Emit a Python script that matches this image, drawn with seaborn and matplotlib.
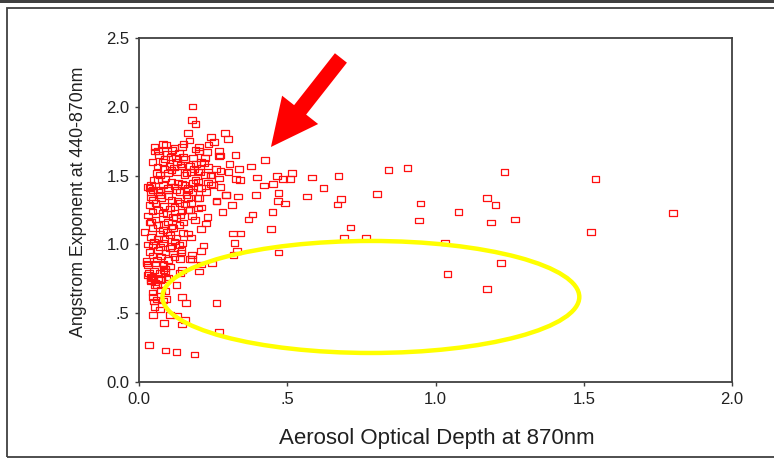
import pandas as pd
import matplotlib
matplotlib.use('Agg')
import matplotlib.pyplot as plt
import seaborn as sns
from matplotlib.path import Path
from matplotlib.patches import Ellipse, Rectangle

# values (AOD at 870nm, Angstrom exponent 440-870nm)
aod_spread = [0.584, 0.673, 0.622, 0.566, 0.841, 0.906, 1.233, 1.540, 0.682, 0.669,
              0.802, 0.950, 1.174, 1.202, 1.078, 0.945, 1.188, 1.269, 1.801, 1.524,
              0.713, 0.692, 0.766, 1.033, 1.221, 1.041, 1.174]
alpha_spread = [1.485, 1.495, 1.408, 1.347, 1.541, 1.555, 1.528, 1.473, 1.330, 1.291,
                1.364, 1.296, 1.339, 1.286, 1.235, 1.175, 1.158, 1.180, 1.226, 1.088,
                1.124, 1.049, 1.049, 1.015, 0.865, 0.787, 0.676]

aod_mid = [0.181, 0.178, 0.190, 0.165, 0.170, 0.242, 0.253, 0.290, 0.301, 0.234,
           0.202, 0.203, 0.146, 0.091, 0.052, 0.053, 0.270, 0.273, 0.326, 0.425,
           0.378, 0.305, 0.338, 0.275, 0.241, 0.302, 0.270, 0.327, 0.341, 0.397,
           0.465, 0.517, 0.486, 0.509, 0.422, 0.451, 0.242, 0.275, 0.293, 0.334,
           0.394, 0.470, 0.262, 0.314, 0.469, 0.493, 0.450, 0.383, 0.369, 0.281,
           0.318, 0.342, 0.445, 0.166, 0.175, 0.209, 0.226, 0.231, 0.199, 0.203,
           0.172, 0.179]
alpha_mid = [2.003, 1.906, 1.877, 1.810, 1.754, 1.781, 1.742, 1.810, 1.768, 1.727,
             1.710, 1.679, 1.710, 1.722, 1.710, 1.674, 1.679, 1.645, 1.650, 1.613,
             1.567, 1.582, 1.550, 1.533, 1.502, 1.528, 1.480, 1.473, 1.468, 1.485,
             1.499, 1.521, 1.473, 1.473, 1.427, 1.439, 1.436, 1.415, 1.361, 1.347,
             1.361, 1.374, 1.313, 1.286, 1.315, 1.296, 1.235, 1.216, 1.182, 1.235,
             1.080, 1.080, 1.110, 1.080, 1.049, 1.110, 1.153, 1.201, 1.262, 1.335,
             1.250, 1.206]

aod_low = [0.322, 0.330, 0.470, 0.218, 0.209, 0.178, 0.178, 0.247, 0.210, 0.202,
           0.146, 0.139, 0.172, 0.127, 0.090, 0.091, 0.146, 0.158, 0.262, 0.105,
           0.155, 0.146, 0.085, 0.270, 0.034, 0.090, 0.127, 0.187, 0.048, 0.051,
           0.052, 0.048, 0.071, 0.080, 0.028, 0.034, 0.043, 0.054, 0.073, 0.082,
           0.082, 0.138, 0.141, 0.147, 0.129, 0.041, 0.075, 0.092, 0.053, 0.041]
alpha_low = [1.012, 0.954, 0.940, 0.993, 0.954, 0.923, 0.896, 0.862, 0.855, 0.802,
             0.814, 0.790, 0.892, 0.705, 0.661, 0.603, 0.620, 0.576, 0.576, 0.487,
             0.451, 0.419, 0.427, 0.368, 0.269, 0.228, 0.216, 0.201, 0.620, 0.584,
             0.543, 0.487, 0.528, 0.591, 0.862, 0.790, 0.758, 0.722, 0.741, 0.814,
             0.850, 0.892, 0.940, 1.008, 0.482, 0.764, 0.747, 0.747, 0.706, 0.731]

aod_top = [0.112, 0.067, 0.107, 0.087, 0.135, 0.148, 0.182, 0.222, 0.269, 0.062,
           0.081, 0.103, 0.128, 0.118, 0.143, 0.171, 0.193, 0.210, 0.233, 0.070,
           0.098, 0.129, 0.154, 0.176, 0.205, 0.222, 0.242, 0.041, 0.064, 0.081,
           0.109, 0.132, 0.154, 0.182, 0.199, 0.233, 0.030, 0.047, 0.070, 0.098,
           0.126, 0.165]
alpha_top = [1.686, 1.650, 1.637, 1.621, 1.662, 1.637, 1.626, 1.626, 1.642, 1.565,
             1.601, 1.572, 1.601, 1.560, 1.565, 1.572, 1.584, 1.601, 1.565, 1.504,
             1.517, 1.524, 1.504, 1.528, 1.524, 1.504, 1.504, 1.432, 1.468, 1.432,
             1.456, 1.451, 1.432, 1.444, 1.456, 1.451, 1.419, 1.395, 1.395, 1.408,
             1.395, 1.395]

aod_core = [0.036, 0.039, 0.047, 0.036, 0.030, 0.041, 0.019, 0.041, 0.047, 0.036,
            0.030, 0.030, 0.041, 0.064, 0.075, 0.064, 0.081, 0.064, 0.081, 0.064,
            0.081, 0.064, 0.075, 0.058, 0.087, 0.064, 0.098, 0.109, 0.104, 0.115,
            0.098, 0.115, 0.104, 0.120, 0.104, 0.115, 0.098, 0.087, 0.137, 0.137,
            0.143, 0.137, 0.148, 0.137, 0.143, 0.165, 0.165, 0.165, 0.199, 0.197,
            0.261, 0.294, 0.210, 0.188, 0.319]
alpha_core = [1.408, 1.379, 1.323, 1.286, 1.209, 1.165, 1.092, 1.056, 0.996, 0.947,
              0.850, 0.778, 0.741, 1.383, 1.335, 1.250, 1.226, 1.141, 1.105, 1.044,
              1.008, 0.959, 0.911, 0.862, 0.826, 0.754, 1.395, 1.323, 1.262, 1.201,
              1.165, 1.117, 1.068, 1.020, 0.972, 0.935, 0.887, 0.802, 1.383, 1.299,
              1.238, 1.141, 1.081, 0.996, 0.959, 1.408, 1.335, 1.250, 1.408, 1.339,
              1.315, 1.359, 1.267, 1.177, 0.923]

aod_dense = [0.05, 0.09, 0.12, 0.07, 0.10, 0.13, 0.055, 0.085, 0.12, 0.045,
             0.095, 0.125, 0.055, 0.085, 0.11, 0.045, 0.07, 0.095, 0.125, 0.05,
             0.085, 0.11, 0.07, 0.045, 0.09, 0.12, 0.06, 0.08, 0.105, 0.05,
             0.07, 0.10, 0.06, 0.075, 0.045, 0.06, 0.04, 0.035, 0.03, 0.025,
             0.14, 0.15, 0.155, 0.16, 0.145, 0.175, 0.18, 0.19, 0.21, 0.225,
             0.25, 0.26, 0.23, 0.16, 0.14, 0.11, 0.085, 0.06, 0.045, 0.065,
             0.095, 0.125, 0.155, 0.12, 0.185, 0.20, 0.22, 0.19, 0.15, 0.08]
alpha_dense = [1.47, 1.48, 1.42, 1.36, 1.35, 1.32, 1.30, 1.28, 1.27, 1.24,
               1.22, 1.19, 1.18, 1.15, 1.13, 1.12, 1.08, 1.09, 1.05, 1.02,
               1.04, 0.99, 0.98, 0.92, 0.94, 0.91, 0.89, 0.86, 0.84, 0.81,
               0.79, 0.76, 0.70, 0.67, 0.65, 0.60, 1.34, 1.16, 1.00, 0.88,
               1.21, 1.16, 1.29, 1.36, 1.44, 1.30, 1.38, 1.47, 1.41, 1.38,
               1.43, 1.55, 1.67, 1.52, 1.58, 1.54, 1.55, 1.52, 1.60, 1.68,
               1.66, 1.63, 1.62, 1.70, 1.55, 1.53, 1.59, 1.69, 1.73, 1.73]

x_ticks = [0.0, 0.5, 1.0, 1.5, 2.0]
x_ticklabels = ['0.0', '.5', '1.0', '1.5', '2.0']
y_ticks = [0.0, 0.5, 1.0, 1.5, 2.0, 2.5]
y_ticklabels = ['0.0', '.5', '1.0', '1.5', '2.0', '2.5']

data = pd.DataFrame({
    'aod': aod_spread + aod_mid + aod_low + aod_top + aod_core + aod_dense,
    'alpha': alpha_spread + alpha_mid + alpha_low + alpha_top + alpha_core + alpha_dense,
})

sns.set_style('white')
plt.rcParams['font.family'] = ['Liberation Sans', 'DejaVu Sans']

fig = plt.figure(figsize=(7.74, 4.63), dpi=100)
ax = fig.add_axes([139 / 774, 1 - 382 / 463, 593 / 774, 344 / 463])

# open rectangle marker, a bit wider than tall
rect = Path([(-1.35, -1), (1.35, -1), (1.35, 1), (-1.35, 1), (-1.35, -1)],
            [Path.MOVETO, Path.LINETO, Path.LINETO, Path.LINETO, Path.CLOSEPOLY])
sns.scatterplot(data=data, x='aod', y='alpha', ax=ax, marker=rect, s=30,
                color='red', linewidth=0.9, legend=False)
pts = ax.collections[0]
pts.set_facecolor('none')
pts.set_edgecolor('#ff1010')

# highlight ellipse
ax.add_patch(Ellipse((0.782, 0.618), 1.406, 0.814, fill=False,
                     edgecolor='#ffff00', linewidth=3.2, zorder=3))

# arrow
ax.annotate('', xy=(0.445, 1.708), xytext=(0.681, 2.355),
            arrowprops=dict(arrowstyle='simple,head_length=34,head_width=33,tail_width=11',
                            mutation_scale=1, color='red', shrinkA=0, shrinkB=0, lw=0))

ax.set_xlim(0, 2.0)
ax.set_ylim(0, 2.5)
ax.set_xticks(x_ticks)
ax.set_xticklabels(x_ticklabels)
ax.set_yticks(y_ticks)
ax.set_yticklabels(y_ticklabels)
ax.tick_params(axis='both', direction='out', length=3, width=1, color='#404040',
               labelsize=12, labelcolor='#202020', pad=4, bottom=True, left=True)

for sp in ax.spines.values():
    sp.set_color('#404040')
    sp.set_linewidth(1.3)

ax.set_xlabel('Aerosol Optical Depth at 870nm', fontsize=16, color='#202020')
ax.xaxis.set_label_coords(0.502, -0.135)
ax.set_ylabel('Angstrom Exponent at 440-870nm', fontsize=12.8, color='#202020')
ax.yaxis.set_label_coords(-0.087, 0.523)

# outer frame of the picture
fig.add_artist(Rectangle((7 / 774, 1 - 457 / 463), 1.0, 449 / 463,
                         transform=fig.transFigure, fill=False,
                         edgecolor='#404040', linewidth=1.3))
fig.add_artist(Rectangle((0, 1 - 2.5 / 463), 1.0, 2.5 / 463,
                         transform=fig.transFigure, facecolor='#404040',
                         edgecolor='none'))

fig.savefig('out.png', dpi=100)
